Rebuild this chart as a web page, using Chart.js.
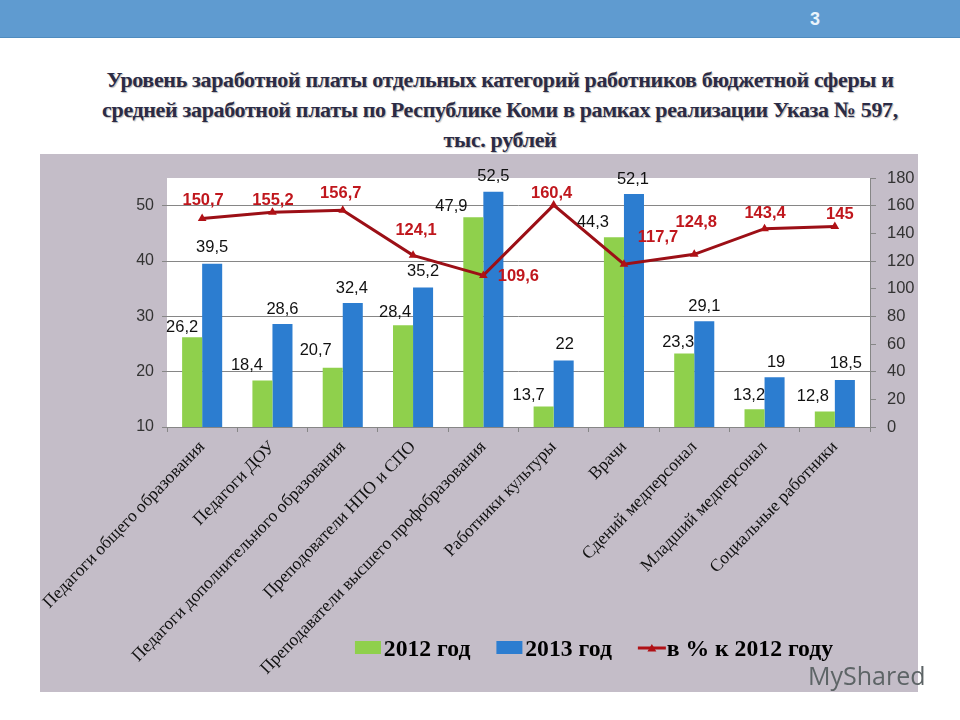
<!DOCTYPE html>
<html lang="ru">
<head>
<meta charset="utf-8">
<style>
html,body{margin:0;padding:0;background:#fff;width:960px;height:720px;overflow:hidden}
#bar{position:absolute;left:0;top:0;width:960px;height:37px;background:#5f9bd0;border-bottom:1px solid #4f8cbf}
#num{position:absolute;left:810px;top:9px;color:#eaf4fb;font:bold 18px "Liberation Sans",sans-serif}
#title{position:absolute;left:60px;top:65px;width:880px;text-align:center;font:bold 22px/30px "Liberation Serif",serif;color:#2b2b45;text-shadow:1px 1px 1px #bbb;letter-spacing:-.35px}
#panel{position:absolute;left:40px;top:154px;width:878px;height:538px;background:#c4bdc8}
#wm{position:absolute;left:808px;top:658px;font:25px "Open Sans",sans-serif;color:#5d6466}
</style>
</head>
<body>
<div id="bar"></div><div id="num">3</div>
<div id="title">Уровень заработной платы отдельных категорий работников бюджетной сферы и<br>средней заработной платы по Республике Коми в рамках реализации Указа № 597,<br>тыс. рублей</div>
<div id="panel"><canvas id="c" width="878" height="538"></canvas></div>
<div id="wm">MyShared</div>
<script src="https://cdn.jsdelivr.net/npm/chart.js@4/dist/chart.umd.min.js"></script>
<script>
const categories = ["Педагоги общего образования","Педагоги ДОУ","Педагоги дополнительного образования","Преподователи НПО и СПО","Преподаватели высшего профобразования","Работники культуры","Врачи","Сдений медперсонал","Младший медперсонал","Социальные работники"];
const salary2012 = [26.2,18.4,20.7,28.4,47.9,13.7,44.3,23.3,13.2,12.8];
const salary2013 = [39.5,28.6,32.4,35.2,52.5,22,52.1,29.1,19,18.5];
const percentOf2012 = [150.7,155.2,156.7,124.1,109.6,160.4,117.7,124.8,143.4,145];
const seriesNames = ["2012 год","2013 год","в % к 2012 году"];

// label offsets from each mark, in pixels (styling only)
const labelOffsets = [
  {dx:[-10,-15.5,-17,-8,-22,-15,-21,-6,-5.5,-12], dy:[-10,-15.5,-17,-13,-11,-11.5,-15,-11,-14,-15.5]},
  {dx:[0,0,-1,0,0,1,-1,0,1.5,1], dy:[-16,-15,-15,-16,-15,-16,-15,-15,-15,-17]},
  {dx:[1,0.5,-2,3,35,-2,34,2,0.5,5], dy:[-18.5,-12,-17,-25,1,-12,-27,-32,-15,-12]}
];
const sans = '"Liberation Sans", sans-serif', serif = '"Liberation Serif", serif';
const PLOT_TO_EDGE = 265, LEG_PAD = 26, LEG_FONT = 23.7, LEG_SHIFT = 115, LEG_CY = 496;

const plotBack = {
  id:'plotBack',
  afterLayout(ch){
    ch.scales.x.bottom = ch.height;           // let long rotated labels run past the legend row
    const l = ch.legend, dy = (LEG_CY - LEG_PAD - LEG_FONT/2) - l.top;
    l.left += LEG_SHIFT; l.right += LEG_SHIFT; l.top += dy; l.bottom += dy;
    l.legendHitBoxes.forEach(h=>{h.left += LEG_SHIFT;});
  },
  beforeDraw(ch){const a=ch.chartArea,c=ch.ctx;c.save();c.fillStyle='#fff';c.fillRect(a.left,a.top,a.right-a.left,a.bottom-a.top);c.restore();}
};
const valueLabels = {
  id:'valueLabels',
  afterDraw(ch){
    const c=ch.ctx;c.save();c.textAlign='center';c.textBaseline='middle';
    ch.data.datasets.forEach((ds,i)=>{
      const m=ch.getDatasetMeta(i);
      c.font=(i===2?'bold 16.5px ':'16.5px ')+sans;
      c.fillStyle=i===2?'#c0171d':'#111';
      m.data.forEach((el,j)=>{
        c.fillText(String(ds.data[j]).replace('.',','),el.x+labelOffsets[i].dx[j],el.y+labelOffsets[i].dy[j]);
      });
    });
    // legend keys
    ch.legend.legendHitBoxes.forEach((h,i)=>{
      const y=LEG_CY-2,x=h.left,ds=ch.data.datasets[i];
      if(i<2){c.fillStyle=ds.backgroundColor;c.fillRect(x,y-7,26,13);}
      else{
        c.strokeStyle='#b01116';c.lineWidth=3;c.beginPath();c.moveTo(x,y);c.lineTo(x+28,y);c.stroke();
        c.fillStyle='#b01116';c.beginPath();const m=x+14;c.moveTo(m,y-4);c.lineTo(m+4.5,y+3.5);c.lineTo(m-4.5,y+3.5);c.closePath();c.fill();
      }
    });
    c.restore();
  }
};

new Chart(document.getElementById('c'),{
  type:'bar',
  data:{labels:categories,datasets:[
    {label:seriesNames[0],data:salary2012,backgroundColor:'#8fd04c',yAxisID:'y',order:2},
    {label:seriesNames[1],data:salary2013,backgroundColor:'#2c7dd0',yAxisID:'y',order:2},
    {label:seriesNames[2],type:'line',data:percentOf2012,yAxisID:'y1',order:1,borderColor:'#9c0f16',borderWidth:3,backgroundColor:'#b01116',pointStyle:'triangle',pointRadius:5,pointBorderWidth:0,tension:0}
  ]},
  options:{
    responsive:false,animation:false,
    layout:{padding:{top:24,left:0,right:0,bottom:0}},
    datasets:{bar:{categoryPercentage:0.57,barPercentage:1}},
    plugins:{
      title:{display:false},tooltip:{enabled:false},
      legend:{position:'bottom',
        labels:{boxWidth:17,boxHeight:13,padding:LEG_PAD,color:'#000',font:{family:serif,size:LEG_FONT,weight:'bold'},
          generateLabels(ch){
            return ch.data.datasets.map((d,i)=>({text:d.label,datasetIndex:i,lineWidth:0,strokeStyle:'transparent',fillStyle:'transparent',fontColor:'#000'}));
          }}}
    },
    scales:{
      x:{
        grid:{drawOnChartArea:false,color:'#868686',tickLength:5},
        border:{color:'#868686'},
        afterFit(s){s.height=PLOT_TO_EDGE-s.chart.legend.height;s.paddingLeft=0;s.paddingRight=0;},
        ticks:{autoSkip:false,maxRotation:46,minRotation:46,color:'#111',padding:5,font:{family:serif,size:17.5}}
      },
      y:{
        position:'left',min:10,max:55,
        afterBuildTicks(s){s.ticks=s.ticks.filter(t=>t.value<=50);},
        afterFit(s){s.width=127;},
        grid:{color:'#868686',tickLength:5},
        border:{display:false},
        ticks:{stepSize:10,color:'#333',padding:8,font:{family:sans,size:16}}
      },
      y1:{
        position:'right',min:0,max:180,
        afterFit(s){s.width=48;},
        grid:{drawOnChartArea:false,color:'#868686',tickLength:6},
        border:{color:'#868686'},
        ticks:{stepSize:20,color:'#333',padding:11,crossAlign:'near',font:{family:sans,size:16.5}}
      }
    }
  },
  plugins:[plotBack,valueLabels]
});
</script>
</body>
</html>
